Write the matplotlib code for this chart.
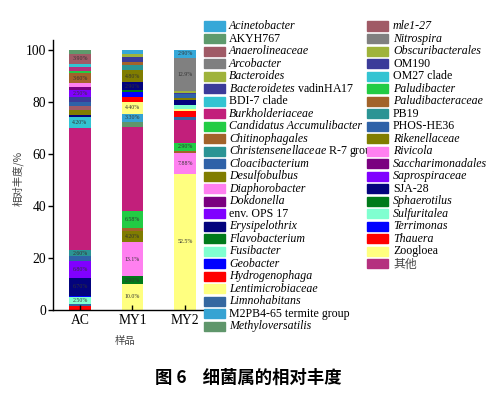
import matplotlib
matplotlib.use('Agg')
import matplotlib.pyplot as plt
from matplotlib.patches import Rectangle

plt.rcParams['font.family'] = ['Liberation Serif', 'Noto Sans CJK SC']
plt.rcParams['mathtext.fontset'] = 'custom'
plt.rcParams['mathtext.it'] = 'Liberation Serif:italic'
plt.rcParams['mathtext.rm'] = 'Liberation Serif'

samples = ['AC', 'MY1', 'MY2']

# legend entries (two columns) and their colours
genera_col1 = ['Acinetobacter', 'AKYH767', 'Anaerolineaceae', 'Arcobacter', 'Bacteroides',
               'Bacteroidetes vadinHA17', 'BDI-7 clade', 'Burkholderiaceae',
               'Candidatus Accumulibacter', 'Chitinophagales', 'Christensenellaceae R-7 group',
               'Cloacibacterium', 'Desulfobulbus', 'Diaphorobacter', 'Dokdonella', 'env. OPS 17',
               'Erysipelothrix', 'Flavobacterium', 'Fusibacter', 'Geobacter', 'Hydrogenophaga',
               'Lentimicrobiaceae', 'Limnohabitans', 'M2PB4-65 termite group', 'Methyloversatilis']
genera_col2 = ['mle1-27', 'Nitrospira', 'Obscuribacterales', 'OM190', 'OM27 clade', 'Paludibacter',
               'Paludibacteraceae', 'PB19', 'PHOS-HE36', 'Rikenellaceae', 'Rivicola',
               'Saccharimonadales', 'Saprospiraceae', 'SJA-28', 'Sphaerotilus', 'Sulfuritalea',
               'Terrimonas', 'Thauera', 'Zoogloea', '其他']
colors_col1 = ['#36a8d8', '#5e9a6c', '#a05a66', '#7f7f80', '#9fb33b', '#3b3b99', '#33c4d2',
               '#c21f7b', '#22cc44', '#a2632a', '#2b9494', '#2f62a8', '#807d00', '#ff80f0',
               '#7a0080', '#8000ff', '#03037d', '#007a1a', '#80ffd0', '#0000ff', '#ff0000',
               '#ffff80', '#3567a0', '#36a3d3', '#5f966b']
colors_col2 = ['#a05a66', '#808080', '#9fb33b', '#3b3b99', '#33c4d2', '#22cc44', '#a2632a',
               '#2b9494', '#2f62a8', '#807d00', '#ff80f0', '#7a0080', '#8000ff', '#03037d',
               '#007a1a', '#80ffd0', '#0000ff', '#ff0000', '#ffff80', '#b5307f']

upright = {'AKYH767', 'BDI-7 clade', 'env. OPS 17', 'M2PB4-65 termite group', 'OM190',
           'OM27 clade', 'PB19', 'PHOS-HE36', 'SJA-28', 'Zoogloea', '其他'}
mixed = {'Bacteroidetes vadinHA17': r'$\mathit{Bacteroidetes}$ vadinHA17',
         'Christensenellaceae R-7 group': r'$\mathit{Christensenellaceae}$ R-7 group'}

# stacked segments per sample, bottom to top (%)
ac_genus = ['Hydrogenophaga', 'Limnohabitans', 'Fusibacter', 'Geobacter', 'Erysipelothrix',
            'env. OPS 17', 'Cloacibacterium', 'Christensenellaceae R-7 group', 'Burkholderiaceae',
            'BDI-7 clade', 'SJA-28', 'Desulfobulbus', 'mle1-27', 'PHOS-HE36', 'OM190',
            'Saprospiraceae', 'Dokdonella', 'Rivicola', 'Chitinophagales', 'Paludibacter', '其他',
            'OM27 clade', 'Anaerolineaceae', 'AKYH767']
ac_values = [1.6, 0.9, 2.5, 0.5, 6.7, 6.8, 1.6, 2.6, 46.7, 4.2, 0.8, 2.0, 1.6, 1.6, 2.0,
             2.5, 1.3, 1.5, 3.6, 0.9, 1.7, 1.0, 3.9, 1.5]

my1_genus = ['Lentimicrobiaceae', 'Flavobacterium', 'Diaphorobacter', 'Desulfobulbus',
             'Chitinophagales', 'Candidatus Accumulibacter', 'Burkholderiaceae', 'Methyloversatilis',
             'M2PB4-65 termite group', 'Zoogloea', 'Thauera', 'Terrimonas', 'Sphaerotilus', 'SJA-28',
             'Rikenellaceae', 'PB19', 'Paludibacteraceae', 'OM190', 'Bacteroides', 'Acinetobacter']
my1_values = [10.0, 2.9, 13.1, 4.2, 1.2, 6.58, 32.42, 1.8, 3.3, 4.4, 1.9, 2.2, 0.6, 2.9,
              4.8, 1.9, 1.3, 1.7, 1.3, 1.5]

my2_genus = ['Lentimicrobiaceae', 'Diaphorobacter', 'Chitinophagales', 'Candidatus Accumulibacter',
             'Burkholderiaceae', 'Limnohabitans', 'Thauera', 'Zoogloea', 'Sulfuritalea', 'SJA-28',
             'Rikenellaceae', 'PHOS-HE36', 'OM190', 'Obscuribacterales', 'Nitrospira', 'Acinetobacter']
my2_values = [52.5, 7.88, 0.9, 2.9, 9.02, 1.1, 2.4, 0.8, 1.5, 1.9, 0.8, 1.2, 0.7, 0.6, 12.9, 2.9]


def legend_label(name):
    if name in mixed:
        return mixed[name], 'normal'
    if name in upright:
        return name, 'normal'
    return name, 'italic'


W, H = 501, 394
fig = plt.figure(figsize=(W / 100, H / 100), dpi=100)
ax = fig.add_axes([53 / W, 1 - 310 / H, 150 / W, 270.4 / H])

color_of = dict(zip(genera_col1 + genera_col2, colors_col1 + colors_col2))
stacks = [(ac_genus, ac_values), (my1_genus, my1_values), (my2_genus, my2_values)]

for i, (names, vals) in enumerate(stacks):
    bottom = 0
    for name, v in zip(names, vals):
        ax.bar(i, v, bottom=bottom, width=0.41, color=color_of[name], linewidth=0)
        if v >= 2.5 and name != 'Burkholderiaceae':
            txt = f'{v:.1f}%' if v >= 10 else f'{v:.2f}%'
            ax.text(i, bottom + v / 2, txt, ha='center', va='center', fontsize=4.2,
                    color='#333333', stretch='condensed')
        bottom += v

ax.set_xlim(-0.514, 2.343)
ax.set_ylim(0, 104)
ax.set_yticks([0, 20, 40, 60, 80, 100])
ax.set_xticks(range(len(samples)))
ax.set_xticklabels(samples)
for s in ['top', 'right']:
    ax.spines[s].set_visible(False)
for s in ['left', 'bottom']:
    ax.spines[s].set_linewidth(1.0)
ax.tick_params(axis='y', direction='out', length=3.6, width=1.0, pad=1.5, labelsize=9.8)
ax.tick_params(axis='x', direction='in', length=3.6, width=1.0, pad=3, labelsize=9.8)

fig.text(18 / W, 1 - 178 / H, '相对丰度/%', rotation=90, ha='center', va='center',
         fontsize=7.5, color='#444444', family=['Noto Sans CJK SC'])
fig.text(125 / W, 1 - 341 / H, '样品', ha='center', va='center',
         fontsize=7.5, color='#444444', family=['Noto Sans CJK SC'])
fig.text(248 / W, 1 - 378 / H, '图 6    细菌属的相对丰度', ha='center', va='center',
         fontsize=12.5, weight='bold', family=['Noto Sans CJK SC'])

# legend drawn by hand: 25 entries on the left, 20 on the right
step = 12.52
for names, cols, px, tx in [(genera_col1, colors_col1, 204, 229),
                            (genera_col2, colors_col2, 367, 393)]:
    for k, (name, c) in enumerate(zip(names, cols)):
        yc = 26 + k * step
        label, style = legend_label(name)
        fam = ['Noto Sans CJK SC'] if name == '其他' else ['Liberation Serif']
        fig.text(tx / W, 1 - yc / H, label, ha='left', va='center', fontsize=8.6,
                 style=style, family=fam, color='#444444' if name == '其他' else 'black')
        fig.add_artist(Rectangle((px / W, 1 - (yc + 4.5) / H), 21 / W, 9 / H,
                                 transform=fig.transFigure, color=c, zorder=5))

fig.savefig('out.png', dpi=100)
